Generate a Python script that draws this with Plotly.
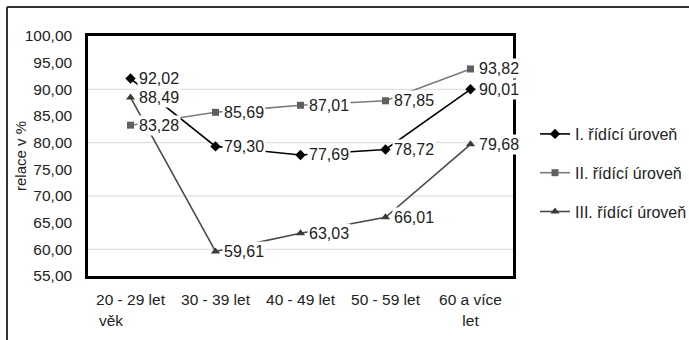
import plotly.graph_objects as go

categories = ["20 - 29 let", "30 - 39 let", "40 - 49 let", "50 - 59 let", "60 a více<br>let"]
series_names = ["I. řídící úroveň", "II. řídící úroveň", "III. řídící úroveň"]
level_I = [92.02, 79.30, 77.69, 78.72, 90.01]
level_II = [83.28, 85.69, 87.01, 87.85, 93.82]
level_III = [88.49, 59.61, 63.03, 66.01, 79.68]
y_ticks = [55, 60, 65, 70, 75, 80, 85, 90, 95, 100]

FONT = "Arial, Liberation Sans, sans-serif"
TXT = "#222222"
styles = [
    dict(line=dict(color="#000000", width=1.6), marker=dict(symbol="diamond", size=8, color="#000000")),
    dict(line=dict(color="#7a7a7a", width=1.6), marker=dict(symbol="square", size=7, color="#5f5f5f")),
    dict(line=dict(color="#4a4a4a", width=1.6), marker=dict(symbol="triangle-up", size=8, color="#3a3a3a")),
]

fig = go.Figure()
annotations = []
for name, vals, st in zip(series_names, [level_I, level_II, level_III], styles):
    fig.add_trace(go.Scatter(x=categories, y=vals, mode="lines+markers", name=name,
                             legendgroup=name, line=st["line"], marker=st["marker"]))
    for c, v in zip(categories, vals):
        annotations.append(dict(x=c, y=v, xref="x", yref="y", text=f"{v:.2f}".replace(".", ","),
                                showarrow=False, xanchor="left", yanchor="middle", xshift=6,
                                bgcolor="white", borderpad=1,
                                font=dict(family=FONT, size=16, color=TXT)))

L, R, T, B = 88, 176, 36, 64
W, H = 689, 340
pw, ph = W - L - R, H - T - B

annotations.append(dict(text="věk", xref="paper", yref="paper", x=(97 - L) / pw, y=(276 - 320) / ph,
                        xanchor="left", yanchor="middle", showarrow=False,
                        font=dict(family=FONT, size=15.5, color=TXT)))
annotations.append(dict(text="relace v %", xref="paper", yref="paper", x=(20 - L) / pw, y=0.5,
                        xanchor="center", yanchor="middle", showarrow=False, textangle=-90,
                        font=dict(family=FONT, size=15, color=TXT)))

shapes = [
    dict(type="line", xref="paper", yref="paper", x0=(7 - L) / pw, x1=(W + 5 - L) / pw,
         y0=(276 - 7) / ph, y1=(276 - 7) / ph, line=dict(color="#333333", width=2)),
    dict(type="line", xref="paper", yref="paper", x0=(7 - L) / pw, x1=(7 - L) / pw,
         y0=(276 - 7) / ph, y1=(276 - H - 5) / ph, line=dict(color="#333333", width=2)),
]

fig.update_layout(
    width=W, height=H,
    margin=dict(l=L, r=R, t=T, b=B, autoexpand=False),
    paper_bgcolor="white", plot_bgcolor="white",
    font=dict(family=FONT, size=15, color=TXT),
    showlegend=True,
    legend=dict(x=(535 - L) / pw, y=(276 - 117) / ph, xanchor="left", yanchor="top",
                tracegroupgap=15, font=dict(family=FONT, size=16, color=TXT),
                bgcolor="rgba(0,0,0,0)"),
    annotations=annotations,
    shapes=shapes,
)
fig.update_xaxes(type="category", range=[-0.5, 4.5], showline=True, linecolor="black", linewidth=2.5,
                 mirror=True, showgrid=False, ticks="", ticklabelstandoff=8,
                 tickfont=dict(family=FONT, size=15.5, color=TXT))
fig.update_yaxes(range=[55, 100], tickvals=y_ticks, ticktext=[f"{t:.2f}".replace(".", ",") for t in y_ticks],
                 showline=True, linecolor="black", linewidth=2.5, mirror=True,
                 showgrid=False, ticks="", ticklabelstandoff=10, zeroline=False,
                 tickfont=dict(family=FONT, size=15.5, color=TXT))
for g in [60, 70, 80, 90]:
    fig.add_hline(y=g, line=dict(color="#d9d9d9", width=1), layer="below")

fig.write_html("out.html", config={"displayModeBar": False},
               post_script="document.body.style.margin='0';")
